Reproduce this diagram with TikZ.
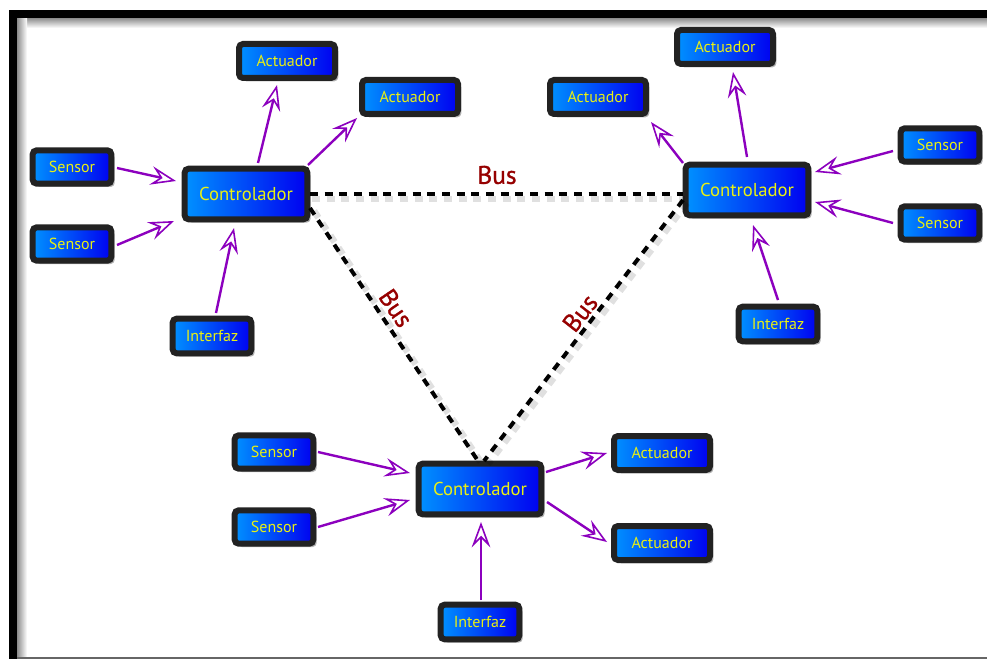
\documentclass[tikz,border=0pt]{standalone}
\usepackage{fontspec}
\setmainfont{PT Sans}
\newfontfamily\busfont[FakeBold=1.2]{PT Sans}
\usetikzlibrary{arrows.meta,calc,shadows}
\definecolor{boxedge}{RGB}{34,34,34}
\definecolor{blueL}{RGB}{0,145,255}
\definecolor{blueR}{RGB}{0,0,240}
\definecolor{txtyel}{RGB}{232,240,20}
\definecolor{purp}{RGB}{140,0,190}
\definecolor{busred}{RGB}{150,0,0}
\tikzset{
  box/.style={draw=boxedge, line width=4.5pt, rounded corners=3pt,
    left color=blueL, right color=blueR, text=txtyel, inner sep=0pt,
    drop shadow={shadow xshift=2.5pt, shadow yshift=-2.5pt, opacity=0.3, fill=black}},
  ctl/.style={box, minimum width=92pt, minimum height=38pt, font=\fontsize{14}{16}\selectfont},
  sen/.style={box, minimum width=59pt, minimum height=25pt, font=\fontsize{12}{14}\selectfont},
  act/.style={box, minimum width=72pt, minimum height=25.5pt, font=\fontsize{12}{14}\selectfont},
  itf/.style={box, minimum width=59pt, minimum height=26pt, font=\fontsize{12}{14}\selectfont},
  arr/.style={draw=purp, line width=1.8pt,
    -{Stealth[length=19pt, width=14pt, inset=7pt, fill=white, line width=1.2pt]}},
  busline/.style={draw=black, line width=3pt, dash pattern=on 6pt off 5pt},
  busshadow/.style={draw=black, opacity=0.12, line width=5pt, dash pattern=on 6pt off 5pt},
  buslbl/.style={text=busred, font=\busfont\fontsize{19}{21}\selectfont, inner sep=0pt}
}
\begin{document}
\begin{tikzpicture}[x=0.75pt,y=-0.75pt]
\useasboundingbox (0,0) rectangle (987,659);
\fill[white] (0,0) rectangle (987,659);
% frame
\shade[top color=black!45, bottom color=white] (17,18) rectangle (987,28);
\shade[left color=black!45, right color=white] (17,18) rectangle (27,659);
\fill[black] (9,10) rectangle (987,18);
\fill[black] (9,10) rectangle (17,659);
\draw[black!60, line width=1.5pt] (17,658) -- (987,658);

% nodes
\node[ctl] (c1) at (246,194) {Controlador};
\node[ctl] (c2) at (747,190) {Controlador};
\node[ctl] (c3) at (480,489) {Controlador};

\node[act] (a1a) at (287,61) {Actuador};
\node[act] (a1b) at (410,97) {Actuador};
\node[sen] (s1a) at (72,167) {Sensor};
\node[sen] (s1b) at (72,244) {Sensor};
\node[itf] (i1) at (212,336) {Interfaz};

\node[act] (a2a) at (725,47) {Actuador};
\node[act] (a2b) at (598,97) {Actuador};
\node[sen] (s2a) at (940,145) {Sensor};
\node[sen] (s2b) at (940,223) {Sensor};
\node[itf] (i2) at (778,324) {Interfaz};

\node[act] (a3a) at (662,453) {Actuador};
\node[act] (a3b) at (662,543) {Actuador};
\node[sen] (s3a) at (274,452) {Sensor};
\node[sen] (s3b) at (274,527) {Sensor};
\node[itf] (i3) at (480,622) {Interfaz};

% bus lines
\draw[busshadow] ($(c1)+(64,0)+(2,5)$) -- ($(c2)+(-64,4)+(2,5)$);
\draw[busshadow] ($(c1)+(64,14)+(4,3)$) -- ($(c3)+(-2,-28)+(4,3)$);
\draw[busshadow] ($(c2)+(-64,10)+(4,3)$) -- ($(c3)+(4,-28)+(4,3)$);
\draw[busline] ($(c1)+(64,0)$) -- ($(c2)+(-64,4)$);
\draw[busline] ($(c1)+(64,14)$) -- ($(c3)+(-2,-28)$);
\draw[busline] ($(c2)+(-64,10)$) -- ($(c3)+(4,-28)$);
\node[buslbl] (b1) at (497,175) {Bus};
\node[buslbl, rotate=-56] (b2) at (396,308) {Bus};
\node[buslbl, rotate=52] (b3) at (580,313) {Bus};

% arrows group 1
\draw[arr] ($(s1a)+(45,1)$) -- ($(c1)+(-70,-13)$);
\draw[arr] ($(s1b)+(45,1)$) -- ($(c1)+(-72,27)$);
\draw[arr] ($(c1)+(12,-31)$) -- ($(a1a)+(-10,24)$);
\draw[arr] ($(c1)+(62,-29)$) -- ($(a1b)+(-53,21)$);
\draw[arr] ($(i1)+(4,-23)$) -- ($(c1)+(-12,34)$);

% arrows group 2
\draw[arr] ($(c2)+(0,-33)$) -- ($(a2a)+(8,25)$);
\draw[arr] ($(c2)+(-64,-27)$) -- ($(a2b)+(53,25)$);
\draw[arr] ($(s2a)+(-47,6)$) -- ($(c2)+(68,-18)$);
\draw[arr] ($(s2b)+(-47,0)$) -- ($(c2)+(68,12)$);
\draw[arr] ($(i2)+(0,-24)$) -- ($(c2)+(6,35)$);

% arrows group 3
\draw[arr] ($(s3a)+(44,0)$) -- ($(c3)+(-70,-16)$);
\draw[arr] ($(s3b)+(44,0)$) -- ($(c3)+(-70,11)$);
\draw[arr] ($(c3)+(66,-17)$) -- ($(a3a)+(-55,0)$);
\draw[arr] ($(c3)+(67,13)$) -- ($(a3b)+(-55,-1)$);
\draw[arr] ($(i3)+(1,-22)$) -- ($(c3)+(1,33)$);
\end{tikzpicture}
\end{document}
